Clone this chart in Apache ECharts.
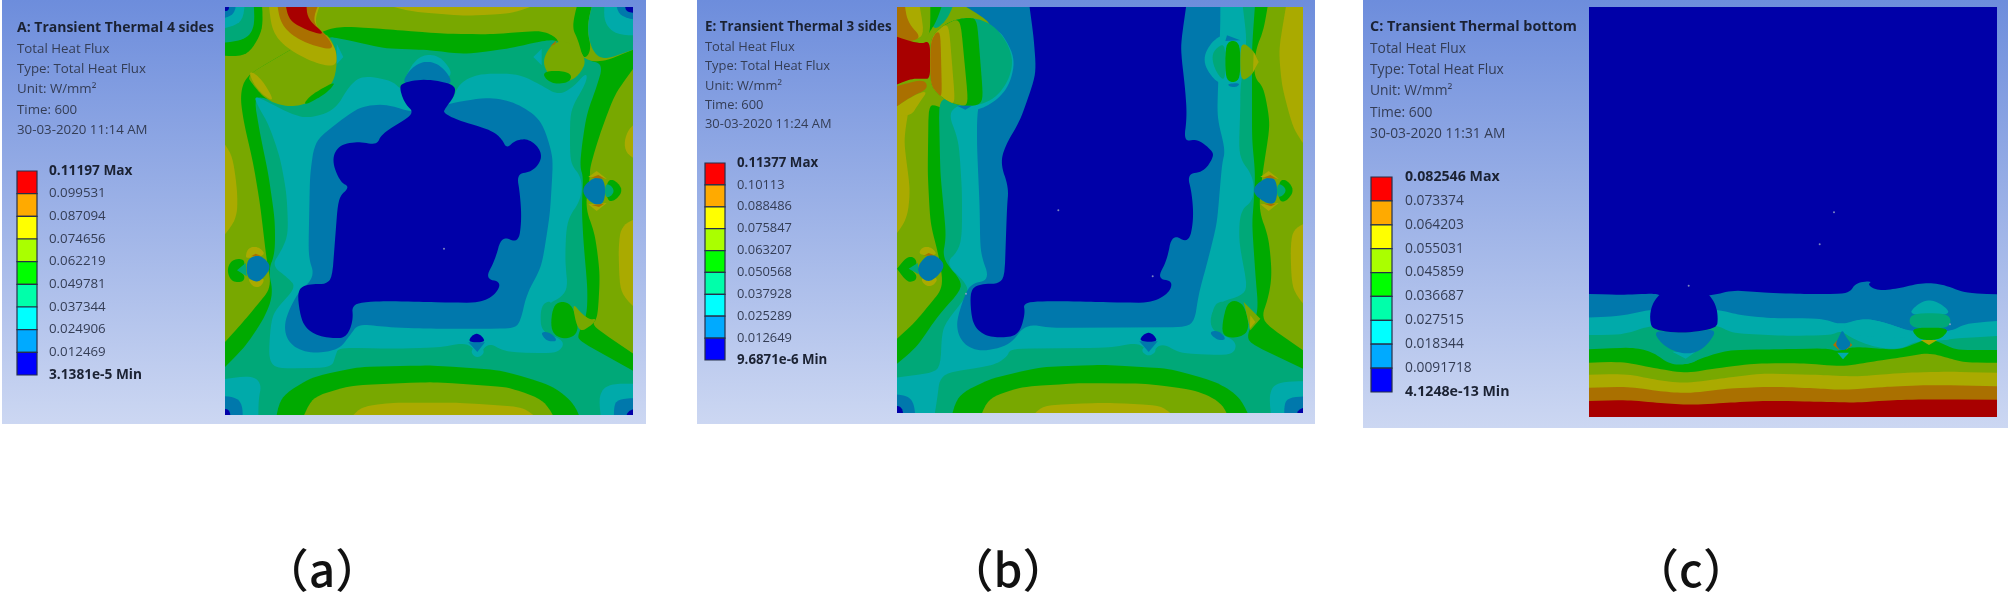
<!DOCTYPE html>
<html><head><meta charset="utf-8">
<style>html,body{margin:0;padding:0;background:#fff}#c{width:2008px;height:599px}#c canvas{filter:blur(.6px)}</style>
<script src="https://cdn.jsdelivr.net/npm/echarts@6/dist/echarts.min.js"></script>
</head><body><div id="c"></div>
<script>
// Band colours: index 0 = lowest flux, 8 = highest
const plateColors=['#0000a8','#0078ac','#00aaaa','#00a878','#00aa00','#78a800','#aaaa00','#aa7000','#a80000'];
const scaleColors=['#0000ff','#00aaff','#00ffff','#00ffaa','#00ff00','#aaff00','#ffff00','#ffaa00','#ff0000'];

const ticksA=['0.11197 Max','0.099531','0.087094','0.074656','0.062219','0.049781','0.037344','0.024906','0.012469','3.1381e-5 Min'];
const ticksB=['0.11377 Max','0.10113','0.088486','0.075847','0.063207','0.050568','0.037928','0.025289','0.012649','9.6871e-6 Min'];
const ticksC=['0.082546 Max','0.073374','0.064203','0.055031','0.045859','0.036687','0.027515','0.018344','0.0091718','4.1248e-13 Min'];
const infoA=['A: Transient Thermal 4 sides','Total Heat Flux','Type: Total Heat Flux','Unit: W/mm²','Time: 600','30-03-2020 11:14 AM'];
const infoB=['E: Transient Thermal 3 sides','Total Heat Flux','Type: Total Heat Flux','Unit: W/mm²','Time: 600','30-03-2020 11:24 AM'];
const infoC=['C: Transient Thermal bottom','Total Heat Flux','Type: Total Heat Flux','Unit: W/mm²','Time: 600','30-03-2020 11:31 AM'];
const captions=['（a）','（b）','（c）'];

// Contour regions on each plate, in plate units: [band, x,y, x,y, ...], painted in order
const contoursA=[
[5,-60,-60,1300,-60,1300,1300,-60,1300],
[6,-40,360,22,440,38,560,35,640,-40,730],
[6,1300,300,1205,365,1195,440,1300,490],
[6,1300,610,1190,650,1180,720,1185,860,1300,970],
[6,430,-20,560,14,720,27,860,20,970,-20],
// green band
[4,300,68,360,58,500,68,650,80,800,82,950,70,995,92,1000,110,1075,160,1135,165,1225,128,1300,100,1300,130,1225,185,1170,260,1125,380,1095,480,1095,510,1080,600,1110,680,1125,800,1120,900,1115,935,1100,955,1225,1040,1300,1090,1300,1300,-60,1300,-60,1060,0,1005,50,950,100,890,140,840,125,760,105,590,85,470,55,340,45,260,65,205],
[4,1060,-20,1105,-20,1085,60,1100,130,1075,160,1060,100,1040,60],
[3,1105,-20,1300,-20,1300,100,1225,128,1135,160,1100,130,1085,60],
// green-teal region
[3,300,88,350,95,480,125,600,128,720,142,850,125,960,100,1000,100,1085,160,1135,170,1115,240,1085,320,1070,420,1065,480,1075,510,1070,600,1075,700,1088,850,1085,930,1060,978,1060,1000,1225,1092,1300,1140,1300,1300,-60,1300,-60,1130,0,1080,60,1020,120,930,145,860,130,790,150,740,150,640,130,500,105,380,85,260,190,300],
// teal region
[2,85,262,100,300,130,350,165,450,185,560,190,680,170,730,140,775,185,810,215,840,140,920,130,1050,150,1085,320,1082,332,1045,340,1022,500,1025,640,1022,730,1005,760,1050,790,1005,840,1035,1000,1040,1022,1000,945,975,950,900,1030,860,1020,760,1025,640,1070,575,1070,510,1035,470,1035,310,1085,225,1085,195,1045,240,1000,265,950,235,880,200,760,200,700,230,680,290,530,250,500,220,410,205,370,240,330,310,250,335,195,320],
[2,560,170,600,140,650,150,690,210,530,240],
// blue region
[1,690,285,800,270,880,290,950,340,985,450,975,620,950,780,905,860,885,950,860,965,600,965,480,960,400,950,375,985,340,1030,250,1040,190,1010,175,950,215,860,270,810,250,750,255,500,270,400,400,300,480,290,575,320],
[1,528,235,555,185,600,160,650,175,690,235],
// navy core
[0,528,228,600,215,690,232,690,265,660,305,655,318,700,340,800,370,830,395,845,425,870,400,910,395,945,425,950,460,920,495,875,500,885,560,890,640,880,710,830,685,810,760,780,815,830,825,810,865,760,888,600,885,480,882,380,888,385,940,365,990,330,995,270,985,230,950,215,850,250,830,320,832,330,700,340,570,375,540,345,525,320,460,340,415,400,403,455,415,470,380,570,320,540,290,525,250],
// bottom mound
[4,140,1300,165,1170,260,1110,400,1080,620,1075,830,1090,980,1135,1050,1190,1090,1300],
[5,205,1300,260,1170,380,1135,620,1125,850,1140,960,1180,1025,1300],
[6,330,1300,400,1200,500,1187,700,1187,900,1200,1010,1300],
// corners
[4,-30,-30,110,-30,115,70,65,150,-30,145],
[3,-30,-30,85,-30,90,60,60,100,-30,110],
[2,-30,-30,60,-30,55,50,-30,70],
[1,-30,-30,35,-30,30,25,-30,40],
[0,-10,-10,12,-10,12,12,-10,12],
[2,1300,-30,1140,-30,1135,45,1175,85,1300,85],
[1,1300,-30,1170,-30,1180,30,1300,50],
[0,1300,-10,1200,-10,1202,18,1300,22],
[2,-30,1120,80,1105,110,1130,100,1180,100,1300,-30,1300],
[1,-30,1165,35,1170,55,1200,50,1300,-30,1300],
[0,-10,1205,18,1207,18,1300,-10,1300],
[2,1300,1130,1150,1130,1120,1165,1135,1300,1300,1300],
[1,1300,1170,1180,1175,1165,1200,1170,1300,1300,1300],
[0,1300,1200,1200,1205,1198,1300,1300,1300],
// big cut-out, top left
[5,65,205,85,235,120,275,170,297,230,297,290,265,325,225,335,180,335,130,300,68],
[4,232,298,255,265,332,222,318,245,290,268],
[6,130,-20,290,-20,265,50,305,85,335,130,335,182,260,165,180,120,140,70],
[7,155,-20,285,-20,260,45,305,85,330,130,260,115,200,85,165,45],
[8,180,-20,245,-20,245,35,305,85,250,72,190,40],
[6,70,188,110,215,150,285,115,265,85,230],
[2,335,110,355,150,335,172],
// left hole
[6,62,745,70,722,100,718,125,745,65,755],
[6,65,810,120,810,110,838,85,842],
[4,5,790,20,758,55,755,60,775,40,790,60,805,55,825,20,825],
[3,36,790,62,768,65,808],
[1,65,760,90,745,115,750,140,780,110,820,90,825,65,810],
[7,78,748,92,740,108,746],
// right hole
[6,1090,510,1115,492,1145,515],
[6,1090,592,1115,612,1145,588],
[4,1145,520,1170,518,1195,550,1170,582,1145,582],
[3,1140,530,1158,535,1168,552,1158,568,1140,572],
[1,1065,550,1105,510,1140,515,1140,590,1105,595],
[7,1098,512,1120,504,1140,515],
[7,1100,594,1122,600,1138,590],
// top right cut-out
[5,990,100,1050,110,1085,160,1065,200,1040,220,1000,230,960,190,955,150],
[4,955,195,1000,190,1040,200,1035,225,990,232,960,215],
[2,950,125,925,150,950,175],
[7,975,118,995,100,990,112],
// lower right cut-out
[3,950,890,985,880,975,975,945,950],
[4,985,885,1040,885,1065,975,1020,1000,975,975],
[5,1040,885,1070,920,1095,938,1115,935,1100,955,1060,978],
[1,945,975,975,975,1000,1003,965,1003],
// bottom hole
[2,735,1035,757,1010,782,1035,757,1055],
[1,730,1006,780,1006,757,1035],
[0,730,1006,738,988,755,978,772,988,781,1006]
];

const contoursB=[
[5,-60,-60,1300,-60,1300,1300,-60,1300],
[6,1170,-20,1145,130,1155,240,1190,370,1300,520,1300,-20],
[6,1300,620,1190,660,1180,720,1185,850,1300,990],
[6,-40,320,40,275,20,400,40,550,30,640,-40,730],
// green band
[4,95,280,92,500,100,650,125,745,140,840,100,890,50,950,0,995,-60,1040,-60,1300,1300,1300,1300,1080,1218,1030,1090,940,1115,870,1125,800,1115,690,1085,610,1095,510,1120,350,1100,240,1070,210,1075,130,1100,70,1115,-20,1075,-20,1030,150,1000,400,600,600,300,400],
// green-teal region
[3,125,270,130,500,148,690,135,755,205,835,120,930,60,1020,0,1070,-60,1110,-60,1300,1300,1300,1300,1130,1218,1085,1040,1000,1085,920,1075,800,1065,650,1070,590,1075,500,1065,400,1065,215,1065,120,1075,-20,1030,-20,1000,300],
// teal region
[2,150,310,185,400,195,550,195,680,185,730,145,770,205,825,215,860,135,960,130,1095,-30,1115,-30,1300,100,1300,120,1180,130,1100,290,1075,330,1050,340,1025,640,1022,730,1005,760,1050,790,1005,850,1040,1010,1045,1020,1000,935,970,950,890,1055,860,1025,700,1030,610,1070,580,1070,510,1025,450,1030,300,1030,240,1050,100,1035,-20,900,-20,400,200],
[2,1300,1120,1140,1125,1115,1160,1130,1300,1300,1300],
// blue region
[1,175,-20,970,-20,970,50,960,330,985,430,975,470,960,650,930,770,905,860,890,960,460,963,385,950,340,1015,250,1035,195,1010,175,950,215,830,280,820,250,740,248,600,240,420,240,320,290,50],
[2,300,55,355,150,340,230,300,280,240,312,200,300,250,160],
// navy core
[0,395,-20,870,-20,850,120,865,250,870,330,860,405,900,395,945,430,950,450,920,495,870,500,885,560,890,640,875,710,825,680,810,760,780,815,828,822,815,860,760,888,600,885,480,882,378,885,385,920,365,985,310,993,260,985,225,950,218,850,250,830,322,830,330,600,335,540,310,470,325,415,370,340,418,200,410,90],
// bottom mound
[4,145,1300,180,1165,280,1115,430,1080,620,1073,820,1085,960,1125,1030,1170,1090,1300],
[5,225,1300,270,1175,370,1140,550,1128,750,1130,900,1150,980,1190,1020,1300],
[6,350,1300,430,1195,620,1187,800,1195,900,1300],
// bottom corners
[1,-30,1160,35,1165,55,1200,55,1300,-30,1300],
[0,-10,1195,20,1200,20,1300,-10,1300],
[1,1300,1165,1175,1170,1160,1195,1165,1300,1300,1300],
[0,1300,1195,1195,1200,1195,1300,1300,1300],
// top-left fan, above and below the flange
[3,100,-20,175,-20,150,40,105,75],
[4,95,-20,140,-20,120,40,95,80,80,100],
[5,65,-20,100,-20,100,75,85,100,70,100],
[6,-30,-20,65,-20,85,95,-30,110],
[7,-30,-20,22,-20,30,45,80,98,-30,110],
[8,-30,80,70,112,100,100,100,215,80,215,40,215,-30,245],
[7,-30,245,80,215,95,245,40,270,-30,320],
[6,-30,320,40,270,95,248,65,290,40,330],
// top-left flange: nested bands, each reaching back to the flange's left edge
[3,215,32,260,40,300,65,335,115,348,165,335,220,300,268,260,290,215,298,180,293,150,281,122,260,100,232,100,98,122,70,150,49,180,37],
[4,215,32,240,36,260,290,215,298,180,293,150,281,122,260,100,232,100,98,122,70,150,49,180,37],
[5,190,33,215,298,180,293,150,281,122,260,100,232,100,98,122,70,150,49],
[6,155,46,175,292,150,281,122,260,100,232,100,98,122,70],
[7,130,64,135,271,122,260,100,232,100,98],
[1,180,296,225,296,205,308],
// left hole
[6,65,745,72,722,100,718,125,745],
[6,68,810,125,810,110,836,85,838],
[4,0,785,30,748,55,752,60,775,40,785,60,805,55,822,30,826],
[3,35,785,62,768,65,802],
[1,62,775,95,740,125,750,145,778,115,815,90,825,65,805],
[7,80,746,95,738,112,745],
// right hole
[6,1090,510,1115,492,1145,515],
[6,1090,592,1115,612,1145,588],
[4,1145,520,1170,518,1192,550,1170,582,1145,585],
[3,1140,530,1158,535,1168,550,1158,566,1140,572],
[1,1060,550,1105,510,1140,515,1140,590,1105,590],
[7,1098,512,1120,504,1140,515],
[7,1100,590,1122,598,1138,590],
// top right flange
[2,1000,78,950,95,915,155,945,215,990,240,1030,240,1045,100],
[3,985,105,950,130,945,160,960,200,985,225],
[4,985,102,1030,102,1030,225,985,225],
[5,1030,102,1070,130,1085,165,1065,205,1030,225],
[6,1070,135,1085,165,1068,195],
[1,990,85,1030,100,985,102],
[1,990,230,1030,228,1020,240,1000,240],
// lower right flange
[3,950,890,990,880,975,990,945,950],
[4,990,880,1040,885,1060,970,1020,995,970,985],
[5,1040,885,1090,935,1060,970],
[6,1060,925,1075,945,1058,965],
[1,935,975,965,970,990,998,960,1000],
// bottom hole
[2,730,1030,755,1010,782,1030,755,1050],
[1,727,1003,782,1003,755,1035],
[0,727,1003,736,985,755,975,772,985,782,1005]
];

const contoursC=[
[0,-60,-700,1300,-700,1300,700,-60,700],
[1,-60,250,100,255,200,250,215,258,365,258,430,240,520,248,640,252,780,252,800,218,850,213,835,225,870,243,930,235,1000,218,1060,222,1130,250,1300,255,1300,700,-60,700],
[2,-60,325,100,318,185,298,385,298,450,315,550,325,700,325,755,345,820,325,880,335,965,365,1085,365,1130,340,1300,328,1300,700,-60,700],
[3,-60,375,100,375,190,345,385,345,430,370,600,378,730,375,755,362,790,385,850,410,930,420,985,392,1060,392,1100,385,1225,378,1300,378,1300,700,-60,700],
[2,755,348,820,325,880,335,965,365,985,386,920,382,850,380,790,376],
[4,-60,420,130,412,190,425,240,462,290,465,350,440,420,420,560,418,720,415,745,425,790,410,860,415,930,420,985,398,1020,385,1060,400,1100,420,1300,420,1300,700,-60,700],
[5,-60,460,100,455,200,475,290,490,380,475,500,460,650,460,760,470,850,455,950,440,1020,428,1080,445,1130,458,1300,458,1300,700,-60,700],
[6,-60,495,120,492,200,510,290,520,400,505,520,490,700,495,800,500,950,488,1080,485,1300,490,1300,700,-60,700],
[7,-60,535,120,530,220,545,300,550,420,535,560,530,680,535,760,540,900,530,1020,525,1300,530,1300,700,-60,700],
[8,-60,575,120,570,220,580,310,585,420,578,540,572,680,575,800,578,920,570,1040,568,1300,570,1300,700,-60,700],
// large flange
[3,190,350,215,420,250,455,290,465,330,450,365,410,385,350],
[2,250,425,320,425,290,446],
[1,190,360,285,370,385,355,360,400,320,430,270,430,220,405],
[0,182,325,187,290,205,258,240,235,285,222,335,235,365,258,382,290,387,325,383,355,285,370,190,360],
// right flange
[2,962,315,975,290,1020,265,1070,290,1083,315],
[3,962,310,1083,310,1085,355,962,355],
[4,965,353,1082,353,1060,385,1020,392,985,385],
[6,995,390,1045,390,1020,405],
// small hole
[7,732,405,745,390,750,420],
[7,790,405,776,390,772,420],
[2,745,428,780,428,762,448],
[1,760,358,770,380,790,405,760,425,738,405,750,380]
];

// Small specks left by the mesh, in plate units
const specksA=[[657,725]];
const specksB=[[484,610],[767,808],[207,860]];
const specksC=[[735,7],[692,103],[299,227],[1083,343]];

const panels=[
 {rect:[2,0,644,424],plate:[225,7,408,408],xMax:1224,yMin:0,yMax:1224,contours:contoursA,specks:specksA,
  scale:[17,171,20,204],ticks:ticksA,info:infoA,textX:17,lines:[28,49,69,89,110,130],font:14,regular:13.3,gap:12,capX:322},
 {rect:[697,0,618,424],plate:[897,7,406,406],xMax:1218,yMin:0,yMax:1218,contours:contoursB,specks:specksB,
  scale:[705,163,20,197],ticks:ticksB,info:infoB,textX:705,lines:[27,47,66,86,105,124],font:13.4,regular:12.9,gap:12,capX:1008},
 {rect:[1363,0,645,428],plate:[1589,7,408,410],xMax:1224,yMin:-609,yMax:621,contours:contoursC,specks:specksC,
  scale:[1371,177,21,215],ticks:ticksC,info:infoC,textX:1370,lines:[27,49,70,91,113,134],font:14.4,regular:13.8,gap:13,capX:1691}
];

// Rounds a contour's drawn outline by corner cutting; vertices off the plate stay square
function roundOutline(pts,inside){
  let cur=pts.map(q=>({q,keep:!inside(q)}));
  for(let it=0;it<3;it++){
    const next=[],n=cur.length;
    cur.forEach((v,i)=>{
      if(v.keep){next.push(v);return;}
      [cur[(i+n-1)%n],cur[(i+1)%n]].forEach(o=>{
        const dx=o.q[0]-v.q[0],dy=o.q[1]-v.q[1],d=Math.hypot(dx,dy)||1,t=Math.min(.25,7/d);
        next.push({q:[v.q[0]+dx*t,v.q[1]+dy*t],keep:false});
      });
    });
    cur=next;
  }
  return cur.map(v=>v.q);
}

const FONT='"Open Sans","Noto Sans",sans-serif';
const grids=[],xAxes=[],yAxes=[],series=[],gfx=[];
panels.forEach((p,i)=>{
  gfx.push({type:'rect',z:-10,shape:{x:p.rect[0],y:p.rect[1],width:p.rect[2],height:p.rect[3]},
    style:{fill:new echarts.graphic.LinearGradient(0,0,0,1,[{offset:0,color:'#6d8ddc'},{offset:1,color:'#ccd7f2'}])}});
  p.info.forEach((t,k)=>gfx.push({type:'text',z:50,x:p.textX,y:p.lines[k],
    style:{text:t,fontFamily:FONT,fontSize:k===0?p.font:p.regular,fontWeight:k===0?700:400,fill:k===0?'#1b2233':'#343d55',textVerticalAlign:'middle'}}));
  gfx.push({type:'text',z:50,x:p.capX,y:570,style:{text:captions[i],fontFamily:'"Noto Sans CJK SC"',fontSize:46,fontWeight:500,fill:'#111',textAlign:'center',textVerticalAlign:'middle'}});

  // plate
  grids.push({left:p.plate[0],top:p.plate[1],width:p.plate[2],height:p.plate[3]});
  xAxes.push({type:'value',gridIndex:2*i,min:0,max:p.xMax,show:false});
  yAxes.push({type:'value',gridIndex:2*i,min:p.yMin,max:p.yMax,inverse:true,show:false});
  const inside=q=>q[0]>p.plate[0]&&q[0]<p.plate[0]+p.plate[2]&&q[1]>p.plate[1]&&q[1]<p.plate[1]+p.plate[3];
  series.push({type:'custom',xAxisIndex:2*i,yAxisIndex:2*i,clip:true,silent:true,
    data:p.contours.map((c,k)=>[k,0]),
    encode:{x:0,y:1},
    renderItem:(prm,api)=>{
      const c=p.contours[prm.dataIndex],pts=[];
      for(let k=1;k<c.length;k+=2)pts.push(api.coord([c[k],c[k+1]]));
      return {type:'polygon',shape:{points:pts.length>3?roundOutline(pts,inside):pts},style:{fill:plateColors[c[0]]}};
    }});
  // colour scale
  grids.push({left:p.scale[0],top:p.scale[1],width:p.scale[2],height:p.scale[3]});
  xAxes.push({type:'value',gridIndex:2*i+1,min:0,max:1,show:false});
  yAxes.push({type:'value',gridIndex:2*i+1,min:0,max:9,interval:1,inverse:true,position:'right',
    axisLine:{show:false},axisTick:{show:false},splitLine:{show:false},
    axisLabel:{show:true,margin:p.gap,hideOverlap:false,showMinLabel:true,showMaxLabel:true,align:'left',
      formatter:v=>(v===0||v===9)?'{b|'+p.ticks[v]+'}':p.ticks[v],
      fontFamily:FONT,fontSize:p.regular,color:'#343d55',
      rich:{b:{fontFamily:FONT,fontSize:p.regular+.4,fontWeight:700,color:'#1b2233'}}}});
  series.push({type:'custom',xAxisIndex:2*i+1,yAxisIndex:2*i+1,silent:true,
    data:scaleColors.map((c,k)=>[0,k]),encode:{x:0,y:1},
    renderItem:(prm,api)=>{
      const k=prm.dataIndex,a=api.coord([0,k]),b=api.coord([1,k+1]);
      return {type:'rect',shape:{x:a[0],y:a[1],width:b[0]-a[0],height:b[1]-a[1]},
        style:{fill:scaleColors[8-k],stroke:'#26304a',lineWidth:1.2}};
    }});
  series.push({type:'scatter',xAxisIndex:2*i,yAxisIndex:2*i,silent:true,symbolSize:2,z:5,
    data:p.specks,itemStyle:{color:'#9aa6c8'}});
});
const chart=echarts.init(document.getElementById('c'),null,{renderer:'canvas'});
chart.setOption({animation:false,backgroundColor:'#fff',grid:grids,xAxis:xAxes,yAxis:yAxes,series,graphic:{elements:gfx}});
</script></body></html>
